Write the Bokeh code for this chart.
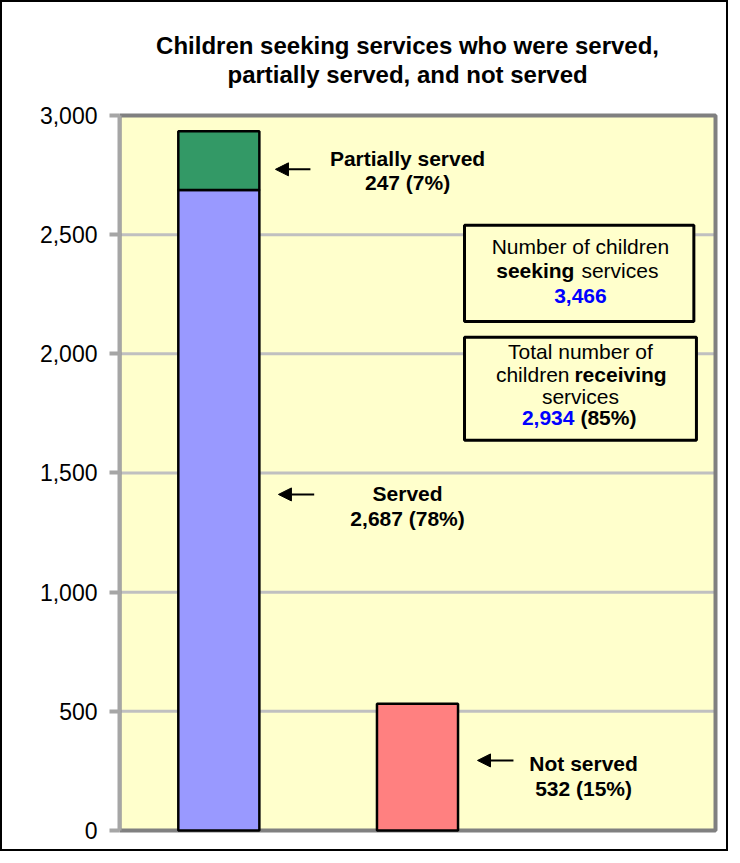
from bokeh.plotting import figure
from bokeh.models import (Arrow, NormalHead, SingleIntervalTicker, NumeralTickFormatter)
from bokeh.core.properties import value
from bokeh.embed import file_html
from bokeh.resources import INLINE

# ---- data ----
categories = ["Served", "Partially served", "Not served"]
served = [2687]
partially_served = [247]
not_served = [532]
seeking_total = 3466
receiving_total = served[0] + partially_served[0]
y_ticks = [0, 500, 1000, 1500, 2000, 2500, 3000]
title_lines = ["Children seeking services who were served,",
               "partially served, and not served"]

def pct(v):
    return f"{v:,} ({round(100 * v / seeking_total)}%)"

FONT = value("Liberation Sans")
Y_MAX = 3000
X_MAX = 3

p = figure(width=728, height=851, title=None,
           x_range=(0, 3.0201), y_range=(-16.8, 3474),
           output_backend="svg", toolbar_location=None, x_axis_location=None,
           min_border_left=117, min_border_right=11, min_border_top=0,
           min_border_bottom=19, background_fill_color="white",
           border_fill_color="white", outline_line_color=None,
           styles={"border": "2px solid black"})

p.xgrid.visible = False
p.ygrid.visible = False

# plot area background
p.quad(left=[0], right=[X_MAX], bottom=[0], top=[Y_MAX], fill_color="#FFFFCC",
       line_color=None, level="image")
# gridlines
p.segment(x0=[0] * len(y_ticks), x1=[X_MAX] * len(y_ticks), y0=y_ticks, y1=y_ticks,
          line_color="#C0C0C0", line_width=3, level="underlay")
# plot area border
p.quad(left=[0], right=[X_MAX], bottom=[0], top=[Y_MAX], fill_color=None,
       line_color="#808080", line_width=4)

ax = p.yaxis[0]
ax.ticker = SingleIntervalTicker(interval=500)
ax.bounds = (0, Y_MAX)
ax.formatter = NumeralTickFormatter(format="0,0")
ax.minor_tick_line_color = None
ax.major_tick_in = 0
ax.major_tick_out = 10
ax.major_tick_line_color = "#A6A6A6"
ax.major_tick_line_width = 4
ax.axis_line_color = "#A6A6A6"
ax.axis_line_width = 4
ax.major_label_text_font = "Liberation Sans"
ax.major_label_text_font_size = "23px"
ax.major_label_text_color = "black"
ax.major_label_standoff = 12

# ---- bars ----
bar_kw = dict(width=0.408, line_color="black", line_width=2.5)
p.vbar(x=[0.5], bottom=[0], top=served, fill_color="#9999FF", **bar_kw)
p.vbar(x=[0.5], bottom=served, top=[served[0] + partially_served[0]],
       fill_color="#339966", **bar_kw)
p.vbar(x=[1.5], bottom=[0], top=not_served, fill_color="#FF8080", **bar_kw)

def t(x, y, s, align="center", bold=False, color="black", size="21px"):
    p.text(x=[x], y=[y], text=[s], text_font=FONT,
           text_font_style="bold" if bold else "normal", text_font_size=size,
           text_align=align, text_baseline="alphabetic", text_color=color)

# ---- arrows & labels ----
arrow_specs = [
    (0.961, 0.785, 2774, "Partially served", pct(partially_served[0]), 1.45, 2818, 2720),
    (0.98, 0.80, 1410, "Served", pct(served[0]), 1.45, 1412, 1307),
    (1.983, 1.802, 294, "Not served", pct(not_served[0]), 2.336, 280, 175),
]
for xs, xe, ya, l1, l2, tx, ty1, ty2 in arrow_specs:
    p.add_layout(Arrow(end=NormalHead(size=13, fill_color="black", line_color="black"),
                       x_start=xs, y_start=ya, x_end=xe, y_end=ya,
                       line_width=2, line_color="black"))
    t(tx, ty1, l1, bold=True, size="21px")
    t(tx, ty2, l2, bold=True, size="21px")

# ---- info boxes ----
p.quad(left=[1.7366, 1.7366], right=[2.891, 2.904], top=[2539, 2070],
       bottom=[2136, 1637], fill_color="#FFFFCC", line_color="black", line_width=3)

bx = 2.32
t(bx, 2450, "Number of children")
t(2.290, 2350, "seeking", align="right", bold=True)
t(2.325, 2350, "services", align="left")
t(bx, 2243, f"{seeking_total:,}", bold=True, color="#0000FF")

t(bx, 2008, "Total number of")
t(2.265, 1914, "children", align="right")
t(2.290, 1914, "receiving", align="left", bold=True)
t(bx, 1823, "services")
t(2.290, 1732, f"{receiving_total:,}", align="right", bold=True, color="#0000FF")
t(2.320, 1732, f"({round(100 * receiving_total / seeking_total)}%)", align="left", bold=True)

# ---- title ----
for line, yy in zip(title_lines, [3294, 3170]):
    t(1.45, yy, line, bold=True, size="24px")

open("out.html", "w").write(file_html(p, INLINE))
